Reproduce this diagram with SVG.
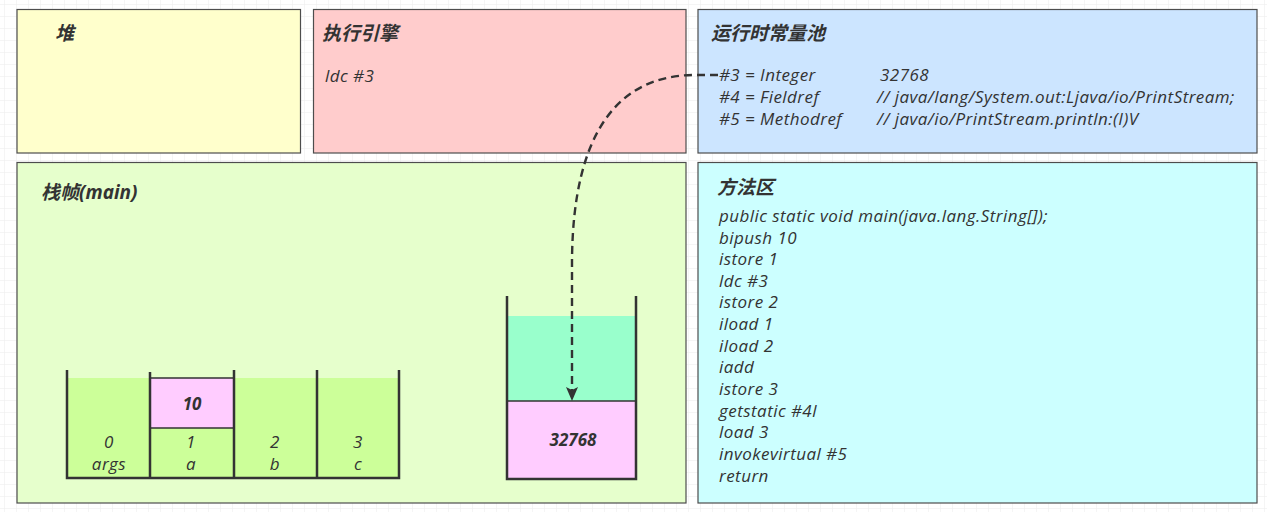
<svg xmlns="http://www.w3.org/2000/svg" width="1267" height="512" viewBox="0 0 1267 512">
<style>
.box{stroke:#4d4d4d;stroke-width:1.2}
.title{font-family:"Open Sans","Noto Sans CJK SC",sans-serif;font-size:19px;font-weight:bold;font-style:italic;fill:#333}
.txt{font-family:"Open Sans","Noto Sans CJK SC",sans-serif;font-size:17px;letter-spacing:0.45px;font-style:italic;fill:#333}
.bt{font-family:"Open Sans",sans-serif;font-size:17px;font-weight:bold;font-style:italic;fill:#333}
.wall{stroke:#333;stroke-width:2.5;fill:none}
.conn{fill:none;stroke:#333;stroke-width:2.4;stroke-dasharray:8 5}
</style>
<defs>
<pattern id="grid" x="4" y="4" width="12" height="12" patternUnits="userSpaceOnUse">
<path d="M12 0 L0 0 0 12" fill="none" stroke="#ebebeb" stroke-width="1"/>
</pattern>
<marker id="ah" markerWidth="14" markerHeight="12" refX="13" refY="6" orient="auto" markerUnits="userSpaceOnUse" viewBox="0 0 14 12">
<path d="M0 0 L14 6 L0 12 L3 6 Z" fill="#333"/>
</marker>
</defs>
<rect width="1267" height="512" fill="#fff"/>
<rect width="1267" height="512" fill="url(#grid)"/>

<g id="heap">
<rect class="box" x="17" y="9.5" width="283.5" height="143.5" fill="#ffffcc"/>
<text class="title" x="55" y="40">堆</text>
</g>

<g id="engine">
<rect class="box" x="313.5" y="9.5" width="372.5" height="143.5" fill="#ffcccc"/>
<text class="title" x="322" y="40">执行引擎</text>
<text class="txt" x="325" y="82">ldc #3</text>
</g>

<g id="constpool">
<rect class="box" x="698" y="9.5" width="559" height="143.5" fill="#cce5ff"/>
<text class="title" x="711" y="40">运行时常量池</text>
<text class="txt" x="719" y="81">#3 = Integer</text>
<text class="txt" x="880" y="81">32768</text>
<text class="txt" x="719" y="103">#4 = Fieldref</text>
<text class="txt" x="877" y="103">// java/lang/System.out:Ljava/io/PrintStream;</text>
<text class="txt" x="719" y="125">#5 = Methodref</text>
<text class="txt" x="877" y="125">// java/io/PrintStream.println:(I)V</text>
</g>

<g id="stackframe">
<rect class="box" x="17" y="162.5" width="669" height="340.5" fill="#e6ffcc"/>
<text class="title" x="41" y="199">栈帧(main)</text>
</g>

<g id="locals">
<rect x="67" y="378" width="332" height="100" fill="#ccff99"/>
<rect x="150" y="378" width="84" height="50" fill="#ffccff" stroke="#333" stroke-width="1.5"/>
<text class="bt" x="192" y="410" text-anchor="middle">10</text>
<path class="wall" d="M67 370 V478 H399 V370 M150 372 V478 M234 370 V478 M317 370 V478"/>
<g class="txt" text-anchor="middle">
<text x="109" y="448">0</text><text x="109" y="470">args</text>
<text x="191" y="448">1</text><text x="191" y="470">a</text>
<text x="275" y="448">2</text><text x="275" y="470">b</text>
<text x="358" y="448">3</text><text x="358" y="470">c</text>
</g>
</g>

<g id="operandstack">
<rect x="507" y="316" width="129" height="85" fill="#99ffcc"/>
<rect x="507" y="401" width="129" height="78" fill="#ffccff"/>
<line x1="507" y1="401" x2="636" y2="401" stroke="#333" stroke-width="1.5"/>
<path class="wall" d="M507 296 V479 H636 V296"/>
<text class="bt" x="573" y="446" text-anchor="middle">32768</text>
</g>

<g id="methodarea">
<rect class="box" x="698" y="162.5" width="559" height="340.5" fill="#ccffff"/>
<text class="title" x="717" y="194">方法区</text>
<g class="txt">
<text x="719" y="222">public static void main(java.lang.String[]);</text>
<text x="719" y="244">bipush 10</text>
<text x="719" y="265">istore 1</text>
<text x="719" y="287">ldc #3</text>
<text x="719" y="308">istore 2</text>
<text x="719" y="330">iload 1</text>
<text x="719" y="352">iload 2</text>
<text x="719" y="373">iadd</text>
<text x="719" y="395">istore 3</text>
<text x="719" y="417">getstatic #4l</text>
<text x="719" y="438">load 3</text>
<text x="719" y="460">invokevirtual #5</text>
<text x="719" y="482">return</text>
</g>
</g>

<g id="connectors">
<path class="conn" d="M718 75 L695 75 C620 75 573 130 572 260 L572 400" marker-end="url(#ah)"/>
</g>
</svg>
